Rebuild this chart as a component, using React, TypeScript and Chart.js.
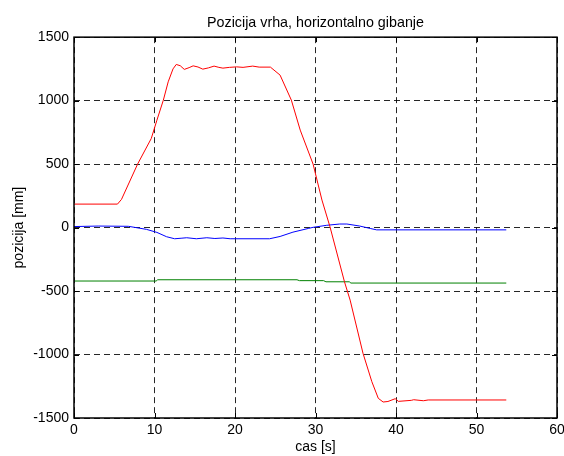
import React, { useEffect, useRef } from "react";
import { Chart, registerables } from "chart.js";

Chart.register(...registerables);

const TITLE = "Pozicija vrha, horizontalno gibanje";
const X_LABEL = "cas [s]";
const Y_LABEL = "pozicija [mm]";

const X_MIN = 0;
const X_MAX = 60;
const X_STEP = 10;
const Y_MIN = -1500;
const Y_MAX = 1500;
const Y_STEP = 500;

const redT = [0, 5.4, 5.9, 7.9, 9.6, 10.3, 11.1, 11.7, 12.3, 12.7, 13.2, 13.7, 14.3, 14.8, 15.4, 16.0, 16.7, 17.4, 18.0, 18.5, 19.3, 20.2, 21.0, 22.2, 23.0, 24.4, 25.6, 27.0, 28.1, 29.7, 30.8, 31.8, 33.6, 34.3, 35.9, 37.0, 37.8, 38.4, 39.0, 39.9, 40.3, 41.9, 42.2, 43.4, 44.0, 53.7];
const redY = [185, 185, 222, 500, 702, 846, 1004, 1148, 1250, 1285, 1275, 1246, 1260, 1274, 1265, 1248, 1258, 1272, 1262, 1256, 1262, 1266, 1262, 1272, 1264, 1264, 1201, 1004, 768, 500, 217, 6, -427, -571, -990, -1214, -1345, -1374, -1370, -1348, -1369, -1361, -1356, -1364, -1358, -1358];

const blueT = [0, 3, 6.75, 9.0, 10.3, 11.5, 12.5, 13.3, 14.0, 15.2, 16.5, 17.5, 18.5, 19.4, 24.3, 25.6, 27.2, 29.1, 29.7, 31.4, 33.0, 33.9, 35.5, 36.8, 37.6, 53.7];
const blueY = [8, 12, 10, -14, -38, -72, -88, -84, -80, -88, -80, -86, -82, -88, -88, -70, -36, -7, 2, 18, 28, 28, 12, -7, -18, -18];

const greenT = [0, 10.2, 10.4, 27.7, 28.0, 31.0, 31.3, 34.2, 34.4, 53.7];
const greenY = [-421, -421, -411, -411, -418, -418, -427, -427, -437, -437];

const FONT = "'Liberation Sans', Arial, Helvetica, sans-serif";

const toPoints = (t: number[], y: number[]) => t.map((x, i) => ({ x, y: y[i] }));

const frameTicks = {
  id: "frameTicks",
  afterDraw(chart: any) {
    const { ctx, chartArea } = chart;
    const { left, right, top, bottom } = chartArea;
    const xs = chart.scales.x;
    const ys = chart.scales.y;
    const len = 5;
    ctx.save();
    ctx.strokeStyle = "#000";
    ctx.lineWidth = 1;
    ctx.beginPath();
    xs.ticks.forEach((tk: any) => {
      const px = Math.round(xs.getPixelForValue(tk.value)) + 0.5;
      ctx.moveTo(px, bottom);
      ctx.lineTo(px, bottom - len);
      ctx.moveTo(px, top);
      ctx.lineTo(px, top + len);
    });
    ys.ticks.forEach((tk: any) => {
      const py = Math.round(ys.getPixelForValue(tk.value)) + 0.5;
      ctx.moveTo(left, py);
      ctx.lineTo(left + len, py);
      ctx.moveTo(right, py);
      ctx.lineTo(right - len, py);
    });
    ctx.stroke();
    ctx.lineWidth = 1.5;
    ctx.strokeRect(left, top, right - left, bottom - top);
    ctx.restore();
  },
};

const plainLabel = (v: any) => String(v);

export default function App() {
  const ref = useRef<HTMLCanvasElement | null>(null);
  useEffect(() => {
    if (!ref.current) return;
    const chart = new Chart(ref.current, {
      type: "line",
      data: {
        datasets: [
          { data: toPoints(redT, redY), borderColor: "#ff0000", borderWidth: 1, pointRadius: 0, tension: 0 },
          { data: toPoints(blueT, blueY), borderColor: "#0000ff", borderWidth: 1, pointRadius: 0, tension: 0 },
          { data: toPoints(greenT, greenY), borderColor: "#008000", borderWidth: 1, pointRadius: 0, tension: 0 },
        ],
      },
      options: {
        responsive: false,
        animation: false,
        devicePixelRatio: 1,
        layout: { padding: { left: 0, right: 7, top: 0, bottom: 0 } },
        plugins: {
          legend: { display: false },
          tooltip: { enabled: false },
          title: {
            display: true,
            fullSize: false,
            text: TITLE,
            color: "#000",
            font: { family: FONT, size: 14.3, weight: "normal" },
            padding: { top: 14, bottom: 6 },
          },
        },
        scales: {
          x: {
            type: "linear",
            min: X_MIN,
            max: X_MAX,
            ticks: { stepSize: X_STEP, color: "#000", padding: 4, maxRotation: 0, font: { family: FONT, size: 14 }, callback: plainLabel },
            grid: { color: "rgba(0,0,0,0.85)", drawTicks: false, lineWidth: 1 },
            border: { display: false, dash: [6, 4] },
            title: { display: true, text: X_LABEL, color: "#000", font: { family: FONT, size: 14 }, padding: { top: 0, bottom: 0 } },
            afterFit: (s: any) => {
              s.height = 38;
              s.paddingLeft = 0;
              s.paddingRight = 0;
            },
          },
          y: {
            type: "linear",
            min: Y_MIN,
            max: Y_MAX,
            ticks: { stepSize: Y_STEP, color: "#000", padding: 5, font: { family: FONT, size: 14 }, callback: plainLabel },
            grid: { color: "rgba(0,0,0,0.85)", drawTicks: false, lineWidth: 1 },
            border: { display: false, dash: [6, 4] },
            title: { display: true, text: Y_LABEL, color: "#000", font: { family: FONT, size: 14 }, padding: { top: 11, bottom: 0 } },
            afterFit: (s: any) => {
              s.width = 74;
              s.paddingTop = 0;
              s.paddingBottom = 0;
            },
          },
        },
      },
      plugins: [frameTicks],
    });
    return () => chart.destroy();
  }, []);
  return (
    <div style={{ position: "absolute", left: 0, top: 0, width: 564, height: 456, background: "#fff" }}>
      <canvas ref={ref} width={564} height={456} />
    </div>
  );
}
